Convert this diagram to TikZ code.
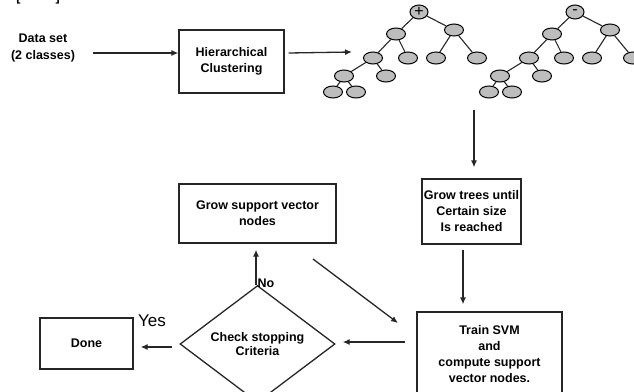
\documentclass[tikz,border=0pt]{standalone}
\usepackage{fontspec}
\setmainfont{Liberation Sans}
\usetikzlibrary{shapes.geometric,arrows.meta}
\definecolor{nodegray}{HTML}{BDBDBD}
\definecolor{linegray}{HTML}{262626}
\tikzset{
 box/.style={draw=linegray, line width=1.3pt, rectangle, inner sep=0pt, align=center, font=\bfseries\fontsize{12.5}{16}\selectfont},
 lbl/.style={align=center, inner sep=0pt, font=\bfseries\fontsize{12.5}{17}\selectfont},
 tn/.style={ellipse, draw=black, fill=nodegray, line width=1pt, minimum width=19pt, minimum height=12pt, inner sep=0pt},
 te/.style={line width=1.1pt, draw=linegray},
 arr/.style={line width=1.3pt, draw=linegray, -{Latex[length=7pt,width=6pt]}},
}
\newcommand\drawtree[3]{%
 \begin{scope}[xshift=#1pt]
 \node[tn,minimum width=18pt,minimum height=14pt,font=\fontsize{16}{16}\selectfont] (#2r) at (419,12) {#3};
 \node[tn] (#2a) at (396,34) {};
 \node[tn] (#2b) at (454,30) {};
 \node[tn] (#2aa) at (373,58) {};
 \node[tn] (#2ab) at (408,58) {};
 \node[tn] (#2ba) at (436,58) {};
 \node[tn] (#2bb) at (477,58) {};
 \node[tn] (#2aaa) at (344,76) {};
 \node[tn] (#2aab) at (386,76) {};
 \node[tn] (#2aaaa) at (333,92) {};
 \node[tn] (#2aaab) at (356,92) {};
 \draw[te] (#2r) -- (#2a) (#2r) -- (#2b)
   (#2a) -- (#2aa) (#2a) -- (#2ab) (#2b) -- (#2ba) (#2b) -- (#2bb)
   (#2aa) -- (#2aaa) (#2aa) -- (#2aab) (#2aaa) -- (#2aaaa) (#2aaa) -- (#2aaab);
 \end{scope}}
\begin{document}
\begin{tikzpicture}[x=1pt,y=-1pt]
\useasboundingbox (0,0) rectangle (634,391);
% cut-off text at the top
\node[anchor=south,inner sep=0pt,font=\bfseries\fontsize{12.5}{15}\selectfont] (top) at (38,4) {[\hspace{35pt}]};
% first row
\node[lbl] (data) at (43,48) {Data set\\(2 classes)};
\node[box, minimum width=105pt, minimum height=63pt] (hc) at (231.5,61.5) {Hierarchical\\Clustering};
\drawtree{0}{p}{+}
\drawtree{156}{m}{-}
\draw[arr] (93,53) -- (hc.west |- 0,53);
\coordinate (hcout) at (352,52);
\draw[arr] (hc.east |- 0,53) ++(4,0) -- (hcout);
% right column
\coordinate (treeout) at (474,110);
\node[box, minimum width=99pt, minimum height=65pt] (gt) at (471.5,211.5) {Grow trees until\\Certain size\\Is reached};
\draw[arr, shorten >=11pt] (treeout) -- (treeout |- gt.north);
\node[box, minimum width=145pt, minimum height=84pt] (train) at (489.5,354) {Train SVM\\and\\compute support\\vector nodes.};
\draw[arr, shorten <=5pt, shorten >=7pt] (gt.south -| 463,0) -- (train.north -| 463,0);
% left part
\node[box, minimum width=157pt, minimum height=59pt] (gsv) at (257.5,213.5) {Grow support vector\\nodes};
\node[diamond, draw=linegray, line width=1.3pt, minimum width=155pt, minimum height=96pt, inner sep=0pt, align=center, font=\bfseries\fontsize{12.5}{14}\selectfont] (chk) at (257.5,344) {Check stopping\\Criteria};
\node[box, minimum width=93pt, minimum height=51pt] (done) at (86.5,343.5) {Done};
\draw[arr, shorten >=6pt] (chk.north -| 256,0) -- (gsv.south -| 256,0);
\node[anchor=west, inner sep=0pt, font=\bfseries\fontsize{12.5}{14}\selectfont] (no) at (257.5,283) {No};
\draw[arr, shorten <=7pt, shorten >=7pt] (chk.west |- 0,347) -- (done.east |- 0,347);
\node[inner sep=0pt, font=\fontsize{17}{18}\selectfont] (yes) at (152,321) {Yes};
\draw[arr, shorten <=11pt, shorten >=7pt] (train.west |- 0,342) -- (chk.east |- 0,342);
\coordinate (d1) at (313,259);
\coordinate (d2) at (398,323);
\draw[arr] (d1) -- (d2);
\end{tikzpicture}
\end{document}
